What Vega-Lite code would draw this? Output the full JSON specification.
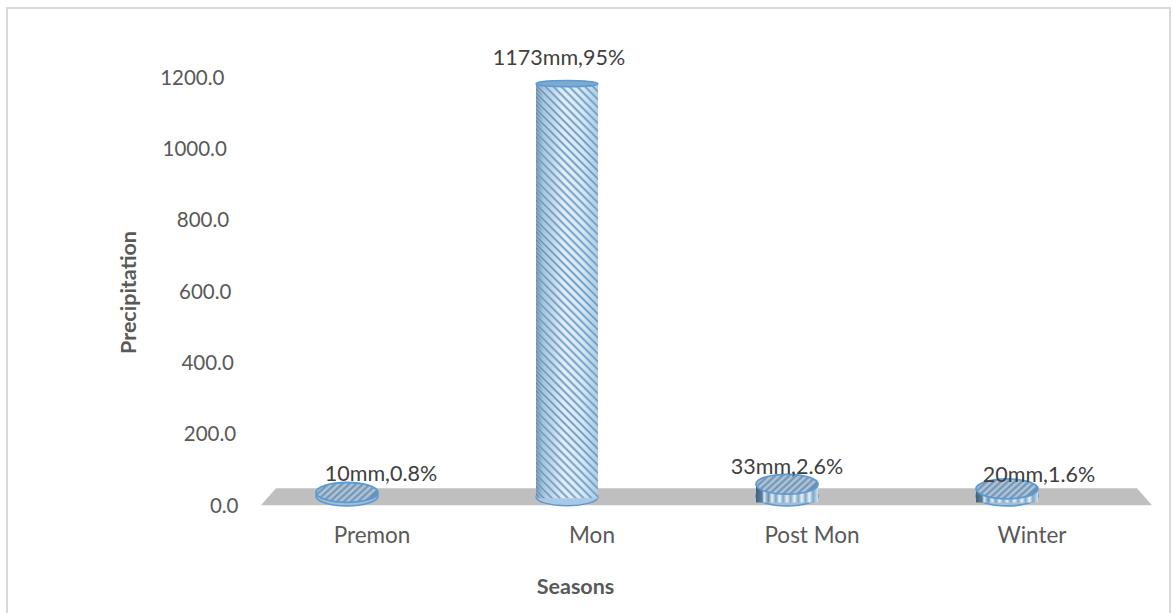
{
  "$schema": "https://vega.github.io/schema/vega-lite/v6.json",
  "width": 880,
  "height": 428,
  "autosize": "none",
  "padding": {"left": 237, "top": 78, "right": 56, "bottom": 107},
  "background": "white",
  "config": {"view": {"stroke": null}, "font": "Lato"},
  "data": {"values": [
    {"season": "Premon", "precipitation": 10, "label": "10mm,0.8%"},
    {"season": "Mon", "precipitation": 1173, "label": "1173mm,95%"},
    {"season": "Post Mon", "precipitation": 33, "label": "33mm,2.6%"},
    {"season": "Winter", "precipitation": 20, "label": "20mm,1.6%"}
  ]},
  "resolve": {"scale": {"x": "independent"}, "axis": {"x": "independent"}},
  "layer": [
    {
      "layer": [
        {
          "data": {"values": [{"kind": "frame"}]},
          "mark": {"type": "rect", "fill": null, "stroke": "#d9d9d9", "strokeWidth": 2, "clip": false},
          "encoding": {
            "x": {"datum": -230, "type": "quantitative", "axis": null, "scale": {"domain": [0, 880], "nice": false, "zero": false}},
            "x2": {"datum": 933},
            "y": {
              "datum": 1396,
              "type": "quantitative",
              "title": "Precipitation",
              "scale": {"domain": [0, 1200], "nice": false},
              "axis": {
                "title": "Precipitation", "titleFontSize": 21.5, "titleFontWeight": "bold", "titleColor": "#595959", "titlePadding": 19,
                "format": ".1f", "values": [0, 200, 400, 600, 800, 1000, 1200],
                "labelFontSize": 20.5, "labelColor": "#595959", "labelPadding": 13,
                "domain": false, "ticks": false, "grid": false,
                "encoding": {"labels": {"dx": {"value": {"signal": "(1200 - datum.value) / 1200 * 14"}}}}
              }
            },
            "y2": {"datum": -330}
          }
        },
        {
          "data": {"values": [
            {"along": 24, "far": 2, "near": 2},
            {"along": 39, "far": 50, "near": 2},
            {"along": 900, "far": 50, "near": 2},
            {"along": 915, "far": 2, "near": 2}
          ]},
          "mark": {"type": "area", "orient": "vertical", "color": "#bfbfbf", "clip": false},
          "encoding": {
            "x": {"field": "along", "type": "quantitative", "axis": null, "scale": {"domain": [0, 880], "nice": false, "zero": false}},
            "y": {"field": "far", "type": "quantitative", "title": "Precipitation", "scale": {"domain": [0, 1200], "nice": false}},
            "y2": {"field": "near"}
          }
        }
      ]
    },
    {
      "encoding": {
        "x": {
          "field": "season",
          "type": "nominal",
          "sort": null,
          "scale": {"domain": ["Premon", "Mon", "Post Mon", "Winter"], "paddingInner": 0, "paddingOuter": 0},
          "axis": {
            "title": "Seasons", "titleFontSize": 21.5, "titleFontWeight": "bold", "titleColor": "#595959", "titlePadding": 30, "titleX": 338,
            "labelAngle": 0, "labelFontSize": 22.5, "labelColor": "#595959", "labelOffset": 25, "labelPadding": 18,
            "domain": false, "ticks": false
          }
        },
        "y": {
          "field": "precipitation",
          "type": "quantitative",
          "title": "Precipitation",
          "scale": {"domain": [0, 1200], "nice": false}
        }
      },
      "layer": [
        {
          "transform": [{"filter": {"field": "season", "equal": "Mon"}}],
          "mark": {"type": "point", "filled": true, "size": 3844, "yOffset": -9, "opacity": 1, "shape": "M-1,0 A1,0.28 0 1,1 1,0 A1,0.28 0 1,1 -1,0 Z", "fill": "#a9c8e2", "stroke": "#5b9bd5", "strokeWidth": 1.5},
          "encoding": {"y": {"datum": 0, "type": "quantitative"}}
        },
        {
          "transform": [{"filter": {"field": "season", "oneOf": ["Premon", "Post Mon", "Winter"]}}],
          "mark": {"type": "point", "filled": true, "size": 3844, "yOffset": -10, "opacity": 1, "shape": "M-1,0 A1,0.32 0 1,1 1,0 A1,0.32 0 1,1 -1,0 Z", "fill": "#a3bdd3", "stroke": "#5b9bd5", "strokeWidth": 1.8},
          "encoding": {"y": {"datum": 0, "type": "quantitative"}}
        },
        {
          "transform": [{"filter": {"field": "season", "equal": "Mon"}}],
          "mark": {"type": "bar", "size": 62, "yOffset": -4, "fill": {
            "gradient": "linear", "x1": 0, "y1": 0, "x2": 1, "y2": 0,
            "stops": [
              {"offset": 0, "color": "#557a9c"},
              {"offset": 0.12, "color": "#a0bfd8"},
              {"offset": 0.45, "color": "#e6f3fc"},
              {"offset": 0.75, "color": "#d6e9f7"},
              {"offset": 1, "color": "#a5c6e2"}
            ]
          }},
          "encoding": {"y2": {"datum": 22}}
        },
        {
          "transform": [{"filter": {"field": "season", "equal": "Mon"}}],
          "mark": {"type": "bar", "size": 62, "yOffset": -4, "fill": {
            "gradient": "linear", "x1": 1, "y1": 0, "x2": 0.8316, "y2": 1.1245,
            "stops": [
              {"offset": 0.0, "color": "#5c8fbd"}, {"offset": 0.0083, "color": "rgba(255,255,255,0)"},
              {"offset": 0.0167, "color": "#5c8fbd"}, {"offset": 0.025, "color": "rgba(255,255,255,0)"},
              {"offset": 0.0333, "color": "#5c8fbd"}, {"offset": 0.0417, "color": "rgba(255,255,255,0)"},
              {"offset": 0.05, "color": "#5c8fbd"}, {"offset": 0.0583, "color": "rgba(255,255,255,0)"},
              {"offset": 0.0667, "color": "#5c8fbd"}, {"offset": 0.075, "color": "rgba(255,255,255,0)"},
              {"offset": 0.0833, "color": "#5c8fbd"}, {"offset": 0.0917, "color": "rgba(255,255,255,0)"},
              {"offset": 0.1, "color": "#5c8fbd"}, {"offset": 0.1083, "color": "rgba(255,255,255,0)"},
              {"offset": 0.1167, "color": "#5c8fbd"}, {"offset": 0.125, "color": "rgba(255,255,255,0)"},
              {"offset": 0.1333, "color": "#5c8fbd"}, {"offset": 0.1417, "color": "rgba(255,255,255,0)"},
              {"offset": 0.15, "color": "#5c8fbd"}, {"offset": 0.1583, "color": "rgba(255,255,255,0)"},
              {"offset": 0.1667, "color": "#5c8fbd"}, {"offset": 0.175, "color": "rgba(255,255,255,0)"},
              {"offset": 0.1833, "color": "#5c8fbd"}, {"offset": 0.1917, "color": "rgba(255,255,255,0)"},
              {"offset": 0.2, "color": "#5c8fbd"}, {"offset": 0.2083, "color": "rgba(255,255,255,0)"},
              {"offset": 0.2167, "color": "#5c8fbd"}, {"offset": 0.225, "color": "rgba(255,255,255,0)"},
              {"offset": 0.2333, "color": "#5c8fbd"}, {"offset": 0.2417, "color": "rgba(255,255,255,0)"},
              {"offset": 0.25, "color": "#5c8fbd"}, {"offset": 0.2583, "color": "rgba(255,255,255,0)"},
              {"offset": 0.2667, "color": "#5c8fbd"}, {"offset": 0.275, "color": "rgba(255,255,255,0)"},
              {"offset": 0.2833, "color": "#5c8fbd"}, {"offset": 0.2917, "color": "rgba(255,255,255,0)"},
              {"offset": 0.3, "color": "#5c8fbd"}, {"offset": 0.3083, "color": "rgba(255,255,255,0)"},
              {"offset": 0.3167, "color": "#5c8fbd"}, {"offset": 0.325, "color": "rgba(255,255,255,0)"},
              {"offset": 0.3333, "color": "#5c8fbd"}, {"offset": 0.3417, "color": "rgba(255,255,255,0)"},
              {"offset": 0.35, "color": "#5c8fbd"}, {"offset": 0.3583, "color": "rgba(255,255,255,0)"},
              {"offset": 0.3667, "color": "#5c8fbd"}, {"offset": 0.375, "color": "rgba(255,255,255,0)"},
              {"offset": 0.3833, "color": "#5c8fbd"}, {"offset": 0.3917, "color": "rgba(255,255,255,0)"},
              {"offset": 0.4, "color": "#5c8fbd"}, {"offset": 0.4083, "color": "rgba(255,255,255,0)"},
              {"offset": 0.4167, "color": "#5c8fbd"}, {"offset": 0.425, "color": "rgba(255,255,255,0)"},
              {"offset": 0.4333, "color": "#5c8fbd"}, {"offset": 0.4417, "color": "rgba(255,255,255,0)"},
              {"offset": 0.45, "color": "#5c8fbd"}, {"offset": 0.4583, "color": "rgba(255,255,255,0)"},
              {"offset": 0.4667, "color": "#5c8fbd"}, {"offset": 0.475, "color": "rgba(255,255,255,0)"},
              {"offset": 0.4833, "color": "#5c8fbd"}, {"offset": 0.4917, "color": "rgba(255,255,255,0)"},
              {"offset": 0.5, "color": "#5c8fbd"}, {"offset": 0.5083, "color": "rgba(255,255,255,0)"},
              {"offset": 0.5167, "color": "#5c8fbd"}, {"offset": 0.525, "color": "rgba(255,255,255,0)"},
              {"offset": 0.5333, "color": "#5c8fbd"}, {"offset": 0.5417, "color": "rgba(255,255,255,0)"},
              {"offset": 0.55, "color": "#5c8fbd"}, {"offset": 0.5583, "color": "rgba(255,255,255,0)"},
              {"offset": 0.5667, "color": "#5c8fbd"}, {"offset": 0.575, "color": "rgba(255,255,255,0)"},
              {"offset": 0.5833, "color": "#5c8fbd"}, {"offset": 0.5917, "color": "rgba(255,255,255,0)"},
              {"offset": 0.6, "color": "#5c8fbd"}, {"offset": 0.6083, "color": "rgba(255,255,255,0)"},
              {"offset": 0.6167, "color": "#5c8fbd"}, {"offset": 0.625, "color": "rgba(255,255,255,0)"},
              {"offset": 0.6333, "color": "#5c8fbd"}, {"offset": 0.6417, "color": "rgba(255,255,255,0)"},
              {"offset": 0.65, "color": "#5c8fbd"}, {"offset": 0.6583, "color": "rgba(255,255,255,0)"},
              {"offset": 0.6667, "color": "#5c8fbd"}, {"offset": 0.675, "color": "rgba(255,255,255,0)"},
              {"offset": 0.6833, "color": "#5c8fbd"}, {"offset": 0.6917, "color": "rgba(255,255,255,0)"},
              {"offset": 0.7, "color": "#5c8fbd"}, {"offset": 0.7083, "color": "rgba(255,255,255,0)"},
              {"offset": 0.7167, "color": "#5c8fbd"}, {"offset": 0.725, "color": "rgba(255,255,255,0)"},
              {"offset": 0.7333, "color": "#5c8fbd"}, {"offset": 0.7417, "color": "rgba(255,255,255,0)"},
              {"offset": 0.75, "color": "#5c8fbd"}, {"offset": 0.7583, "color": "rgba(255,255,255,0)"},
              {"offset": 0.7667, "color": "#5c8fbd"}, {"offset": 0.775, "color": "rgba(255,255,255,0)"},
              {"offset": 0.7833, "color": "#5c8fbd"}, {"offset": 0.7917, "color": "rgba(255,255,255,0)"},
              {"offset": 0.8, "color": "#5c8fbd"}, {"offset": 0.8083, "color": "rgba(255,255,255,0)"},
              {"offset": 0.8167, "color": "#5c8fbd"}, {"offset": 0.825, "color": "rgba(255,255,255,0)"},
              {"offset": 0.8333, "color": "#5c8fbd"}, {"offset": 0.8417, "color": "rgba(255,255,255,0)"},
              {"offset": 0.85, "color": "#5c8fbd"}, {"offset": 0.8583, "color": "rgba(255,255,255,0)"},
              {"offset": 0.8667, "color": "#5c8fbd"}, {"offset": 0.875, "color": "rgba(255,255,255,0)"},
              {"offset": 0.8833, "color": "#5c8fbd"}, {"offset": 0.8917, "color": "rgba(255,255,255,0)"},
              {"offset": 0.9, "color": "#5c8fbd"}, {"offset": 0.9083, "color": "rgba(255,255,255,0)"},
              {"offset": 0.9167, "color": "#5c8fbd"}, {"offset": 0.925, "color": "rgba(255,255,255,0)"},
              {"offset": 0.9333, "color": "#5c8fbd"}, {"offset": 0.9417, "color": "rgba(255,255,255,0)"},
              {"offset": 0.95, "color": "#5c8fbd"}, {"offset": 0.9583, "color": "rgba(255,255,255,0)"},
              {"offset": 0.9667, "color": "#5c8fbd"}, {"offset": 0.975, "color": "rgba(255,255,255,0)"},
              {"offset": 0.9833, "color": "#5c8fbd"}, {"offset": 0.9917, "color": "rgba(255,255,255,0)"},
              {"offset": 1, "color": "#5c8fbd"}
            ]
          }},
          "encoding": {"y2": {"datum": 22}}
        },
        {
          "transform": [{"filter": {"field": "season", "oneOf": ["Post Mon", "Winter"]}}],
          "mark": {"type": "bar", "size": 62, "yOffset": -10, "fill": {
            "gradient": "linear", "x1": 0, "y1": 0, "x2": 1, "y2": 0,
            "stops": [
              {"offset": 0, "color": "#3f5f7d"}, {"offset": 0.1, "color": "#5d7f9e"},
              {"offset": 0.13, "color": "#dcebf6"}, {"offset": 0.2, "color": "#6a8fb0"},
              {"offset": 0.26, "color": "#e3f0f9"}, {"offset": 0.32, "color": "#7ba0c0"},
              {"offset": 0.38, "color": "#e6f2fb"}, {"offset": 0.44, "color": "#80a6c6"},
              {"offset": 0.5, "color": "#e6f2fb"}, {"offset": 0.56, "color": "#80a6c6"},
              {"offset": 0.62, "color": "#e6f2fb"}, {"offset": 0.68, "color": "#80a6c6"},
              {"offset": 0.74, "color": "#e6f2fb"}, {"offset": 0.8, "color": "#80a6c6"},
              {"offset": 0.86, "color": "#e6f2fb"}, {"offset": 0.92, "color": "#80a6c6"},
              {"offset": 1, "color": "#cfe3f3"}
            ]
          }},
          "encoding": {"y2": {"datum": 10}}
        },
        {
          "transform": [{"filter": {"field": "season", "equal": "Mon"}}],
          "mark": {"type": "point", "filled": true, "size": 3844, "yOffset": -4, "opacity": 1, "shape": "M-1,0 A1,0.1 0 1,1 1,0 A1,0.1 0 1,1 -1,0 Z", "fill": "#7fa9cf", "stroke": "#5b9bd5", "strokeWidth": 1.5}
        },
        {
          "transform": [{"filter": {"field": "season", "oneOf": ["Premon", "Post Mon", "Winter"]}}],
          "mark": {"type": "point", "filled": true, "size": 3844, "yOffset": -10, "opacity": 1, "shape": "M-1,0 A1,0.32 0 1,1 1,0 A1,0.32 0 1,1 -1,0 Z", "stroke": "#5b9bd5", "strokeWidth": 1.8, "fill": {
            "gradient": "linear", "x1": 0, "y1": 0, "x2": 1, "y2": 0.35,
            "stops": [
              {"offset": 0, "color": "#6f8fae"}, {"offset": 0.05, "color": "#b7cde0"},
              {"offset": 0.1, "color": "#6f8fae"}, {"offset": 0.15, "color": "#b7cde0"},
              {"offset": 0.2, "color": "#6f8fae"}, {"offset": 0.25, "color": "#b7cde0"},
              {"offset": 0.3, "color": "#6f8fae"}, {"offset": 0.35, "color": "#b7cde0"},
              {"offset": 0.4, "color": "#6f8fae"}, {"offset": 0.45, "color": "#b7cde0"},
              {"offset": 0.5, "color": "#6f8fae"}, {"offset": 0.55, "color": "#b7cde0"},
              {"offset": 0.6, "color": "#6f8fae"}, {"offset": 0.65, "color": "#b7cde0"},
              {"offset": 0.7, "color": "#6f8fae"}, {"offset": 0.75, "color": "#b7cde0"},
              {"offset": 0.8, "color": "#6f8fae"}, {"offset": 0.85, "color": "#b7cde0"},
              {"offset": 0.9, "color": "#6f8fae"}, {"offset": 0.95, "color": "#b7cde0"},
              {"offset": 1, "color": "#6f8fae"}
            ]
          }}
        },
        {
          "transform": [{"filter": {"field": "season", "equal": "Premon"}}],
          "mark": {"type": "text", "fontSize": 21.5, "color": "#404040", "dx": 34, "dy": -27},
          "encoding": {"text": {"field": "label"}}
        },
        {
          "transform": [{"filter": {"field": "season", "equal": "Mon"}}],
          "mark": {"type": "text", "fontSize": 21.5, "color": "#404040", "dx": -8, "dy": -29},
          "encoding": {"text": {"field": "label"}}
        },
        {
          "transform": [{"filter": {"field": "season", "equal": "Post Mon"}}],
          "mark": {"type": "text", "fontSize": 21.5, "color": "#404040", "dx": 0, "dy": -26},
          "encoding": {"text": {"field": "label"}}
        },
        {
          "transform": [{"filter": {"field": "season", "equal": "Winter"}}],
          "mark": {"type": "text", "fontSize": 21.5, "color": "#404040", "dx": 32, "dy": -23},
          "encoding": {"text": {"field": "label"}}
        }
      ]
    }
  ]
}
